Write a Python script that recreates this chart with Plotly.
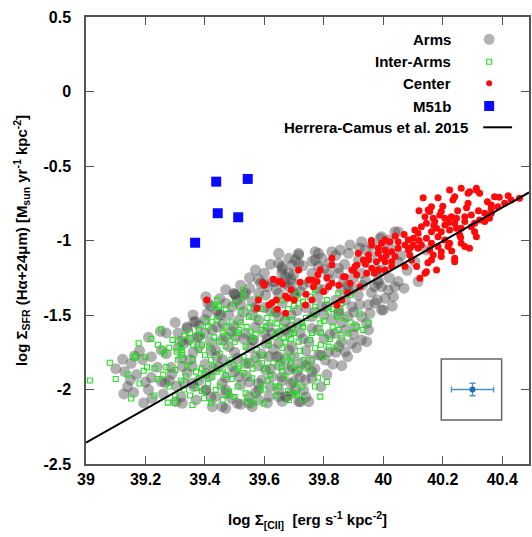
import plotly.graph_objects as go

# ---------------- data ----------------
arms = [
    (39.250,-1.610),(39.253,-1.735),(39.163,-1.775),(39.123,-1.797),(39.152,-1.824),(39.149,-1.936),
    (39.127,-2.030),(39.194,-2.090),(39.222,-2.060),(39.253,-1.947),(39.266,-1.954),(39.286,-1.851),
    (39.289,-1.896),(39.305,-1.977),(39.322,-1.674),(39.322,-1.790),
    (39.693,-1.164),(39.682,-1.220),(39.668,-1.287),(39.637,-1.276),(39.598,-1.287),(39.581,-1.354),
    (39.531,-1.366),(39.497,-1.354),(39.509,-1.399),(39.470,-1.421),(39.403,-1.377),(39.408,-1.489),
    (39.453,-1.500),(39.363,-1.545),(39.341,-1.589),(39.375,-1.646),(39.347,-1.668),(39.330,-1.690),
    (39.380,-1.712),(39.419,-1.679),(39.436,-1.735),(39.481,-1.712),(39.470,-1.646),(39.497,-1.578),
    (39.537,-1.623),(39.564,-1.668),(39.626,-1.623),(39.648,-1.690),(39.682,-1.735),(39.615,-1.779),
    (39.570,-1.779),(39.537,-1.824),(39.492,-1.846),(39.447,-1.846),(39.403,-1.891),(39.358,-1.846),
    (39.324,-1.846),(39.330,-1.958),(39.363,-1.981),(39.403,-2.003),(39.436,-2.048),(39.470,-2.026),
    (39.509,-2.093),(39.548,-2.048),(39.581,-2.003),(39.615,-2.048),(39.648,-2.003),(39.676,-2.048),
    (39.698,-1.947),(39.659,-1.914),(39.626,-1.914),(39.592,-1.936),(39.458,-1.958),(39.425,-2.115),
    (39.470,-2.126),(39.559,-2.115),
    (39.983,-1.287),(40.017,-1.332),(39.972,-1.421),(39.955,-1.489),(39.994,-1.466),(39.927,-1.511),
    (39.944,-1.556),(39.905,-1.578),(39.872,-1.600),(39.838,-1.623),(39.927,-1.668),(39.944,-1.679),
    (39.894,-1.690),(39.849,-1.712),(39.816,-1.746),(39.872,-1.746),(39.782,-1.768),(39.754,-1.802),
    (39.805,-1.802),(39.726,-1.824),(39.693,-1.846),(39.760,-1.925),(39.738,-1.936),(39.704,-2.003),
    (39.732,-2.003),(39.671,-2.048),(39.721,-2.082),(39.749,-2.082),(39.827,-1.534),(39.849,-1.489),
    (39.793,-1.444),(39.760,-1.511),(39.715,-1.556),(39.682,-1.623),(39.693,-1.712),(39.894,-1.444),
    (39.872,-1.399),(39.916,-1.366),(39.883,-1.343),
    (40.039,-0.941),(40.017,-0.997),(39.989,-0.985),(39.927,-1.008),(39.888,-1.030),(39.855,-1.064),
    (39.827,-1.075),(39.771,-1.075),(39.715,-1.086),(39.682,-1.119),(39.659,-1.175),(39.715,-1.153),
    (39.771,-1.131),(39.793,-1.119),(39.782,-1.175),(39.883,-1.086),(39.939,-1.064),(39.961,-1.030),
    (39.698,-1.231),(39.816,-1.220),(39.849,-1.186),(39.866,-1.276),(39.927,-1.220),(39.983,-1.265),
    (39.671,-1.243),(39.916,-1.131),(39.994,-1.198),
    (40.050,-0.941),(39.994,-0.975),(40.050,-1.276),(40.039,-1.310),(39.994,-1.310),(40.006,-1.388),
    (40.034,-1.377),(40.000,-1.466),(40.117,-1.276),(40.106,-1.142),(40.145,-1.064),(40.050,-1.142),
    (39.782,-1.086),
    (39.369,-1.545),(39.503,-1.366),(39.537,-1.354),(39.492,-1.444),(39.559,-1.410),(39.659,-1.220),
    (39.715,-1.097),(39.626,-1.276),(39.587,-1.287),(39.693,-1.287),(39.648,-1.354),(39.704,-1.366),
    (39.604,-1.366),(39.581,-1.534),(39.615,-1.578),(39.648,-1.511),(39.671,-1.600),(39.514,-1.534),
    (39.447,-1.500),(39.425,-1.600),(39.380,-1.646),(39.458,-1.668),(39.503,-1.646),(39.559,-1.668),
    (39.604,-1.690),(39.648,-1.779),(39.682,-1.869),(39.604,-1.869),(39.548,-1.824),(39.514,-1.914),
    (39.470,-2.003),(39.458,-2.115),(39.548,-2.093),(39.648,-2.048),(39.715,-2.082),(39.324,-2.093),
    (39.302,-2.082),(39.403,-2.003),(39.358,-1.958),(39.414,-1.914),
    (39.820,-1.150),(39.850,-1.220),(39.880,-1.300),(39.900,-1.250),(39.930,-1.300),(39.960,-1.350),
    (39.800,-1.330),(39.780,-1.380),(39.840,-1.400),(39.760,-1.220),(39.730,-1.300),(39.700,-1.350),
    (39.740,-1.450),(39.800,-1.500),(39.860,-1.550),(39.900,-1.480),(39.950,-1.430),(39.980,-1.200),
    (39.570,-1.198),(39.648,-1.153),(39.704,-1.131),(39.648,-1.086),(39.600,-1.220),(39.550,-1.250),
    (39.520,-1.300),(39.470,-1.330),
    (39.530,-1.480),(39.570,-1.450),(39.620,-1.470),(39.660,-1.420),(39.690,-1.500),(39.720,-1.620),
    (39.750,-1.680),(39.780,-1.600),(39.600,-1.620),(39.630,-1.730),(39.670,-1.800),(39.710,-1.880),
    (39.580,-1.840),(39.550,-1.950),(39.620,-1.980),(39.500,-1.750),(39.520,-1.970),(39.440,-1.780),
    (39.400,-1.830),(39.360,-1.750),(39.380,-1.570),(39.420,-1.440),(39.460,-1.560),(39.650,-1.840),
    (39.740,-1.740),(39.800,-1.660),(39.840,-1.750),(39.770,-1.860),(39.690,-1.960),(39.580,-2.070),
    (39.620,-1.160),(39.660,-1.190),(39.730,-1.170),(39.760,-1.140),(39.800,-1.190),(39.840,-1.100),
    (39.870,-1.160),(39.920,-1.050),(39.960,-1.100),(40.000,-1.050),(40.030,-1.060),(40.060,-1.100),
    (40.080,-1.200),(39.690,-1.260),(39.580,-1.260),
    (39.500,-1.360),(39.550,-1.320),(39.610,-1.310),(39.640,-1.330),(39.680,-1.310),(39.720,-1.340),
    (39.750,-1.280),(39.780,-1.320),(39.820,-1.260),(39.860,-1.330),(39.900,-1.320),(39.940,-1.270),
    (39.970,-1.310),(40.020,-1.250),(40.070,-1.320),(39.450,-1.390),(39.410,-1.420),
    (39.360,-1.500),(39.400,-1.530),(39.440,-1.470),(39.480,-1.500),(39.520,-1.430),(39.560,-1.500),
    (39.600,-1.450),(39.640,-1.480),(39.670,-1.540),(39.710,-1.470),(39.770,-1.480),(39.810,-1.440),
    (39.850,-1.470),(39.880,-1.510),(39.920,-1.430),(39.980,-1.400),(40.030,-1.440),(39.300,-1.550),
    (39.270,-1.620),(39.310,-1.620),(39.340,-1.580),(39.400,-1.620),(39.440,-1.580),(39.490,-1.610),
    (39.530,-1.660),(39.570,-1.580),(39.610,-1.660),(39.650,-1.620),(39.690,-1.580),(39.730,-1.660),
    (39.760,-1.590),(39.820,-1.630),(39.860,-1.680),(39.900,-1.630),(39.950,-1.600),(39.210,-1.650),
    (39.180,-1.740),(39.220,-1.780),(39.270,-1.760),(39.310,-1.720),(39.350,-1.800),(39.420,-1.740),
    (39.460,-1.800),(39.510,-1.790),(39.550,-1.720),(39.590,-1.760),(39.640,-1.780),(39.700,-1.780),
    (39.740,-1.840),(39.790,-1.770),(39.830,-1.830),(39.880,-1.780),(39.910,-1.720),
    (39.130,-1.880),(39.170,-1.900),(39.220,-1.920),(39.280,-1.940),(39.340,-1.890),(39.380,-1.940),
    (39.430,-1.860),(39.470,-1.920),(39.500,-1.880),(39.540,-1.910),(39.580,-1.960),(39.620,-1.860),
    (39.660,-1.940),(39.720,-1.920),(39.760,-1.880),(39.810,-1.900),(39.860,-1.840),
    (39.160,-2.020),(39.210,-2.000),(39.260,-2.030),(39.320,-2.050),(39.370,-2.070),(39.420,-2.050),
    (39.490,-2.060),(39.520,-2.100),(39.570,-2.020),(39.610,-2.090),(39.660,-2.080),(39.690,-2.030),
    (39.740,-2.050),(39.790,-1.980),
    (39.100,-1.860),(39.140,-1.980),(39.190,-1.800),(39.240,-1.850),(39.200,-1.950),
]

inter_arms = [
    (39.253,-1.596),(39.177,-1.690),(39.242,-1.700),(39.257,-1.735),(39.263,-1.760),(39.291,-1.667),
    (39.309,-1.679),(39.166,-1.775),(39.163,-1.786),(39.205,-1.851),(39.194,-1.874),(39.230,-1.858),
    (39.013,-1.940),(39.152,-2.060),(39.305,-1.746),(39.322,-1.735),(39.322,-1.768),(39.275,-2.088),
    (39.298,-2.088),(39.300,-2.040),
    (39.528,-1.332),(39.434,-1.444),(39.447,-1.444),(39.520,-1.478),(39.548,-1.511),(39.575,-1.522),
    (39.403,-1.545),(39.425,-1.545),(39.470,-1.578),(39.514,-1.600),(39.553,-1.612),(39.604,-1.578),
    (39.643,-1.556),(39.671,-1.511),(39.693,-1.534),(39.380,-1.600),(39.352,-1.656),(39.319,-1.712),
    (39.324,-1.757),(39.380,-1.735),(39.414,-1.712),(39.447,-1.679),(39.537,-1.712),(39.575,-1.735),
    (39.615,-1.701),(39.637,-1.646),(39.665,-1.656),(39.592,-1.824),(39.659,-1.824),(39.693,-1.779),
    (39.514,-1.846),(39.470,-1.902),(39.425,-1.914),(39.380,-1.925),(39.336,-1.914),(39.559,-1.925),
    (39.587,-1.981),(39.637,-1.981),(39.537,-2.026),(39.481,-2.014),(39.436,-2.003),(39.397,-2.059),
    (39.358,-2.104),(39.564,-2.093),(39.598,-2.093),(39.682,-2.070),(39.704,-2.026),
    (39.754,-1.377),(39.771,-1.444),(39.715,-1.421),(39.816,-1.478),(39.855,-1.455),(39.844,-1.511),
    (39.788,-1.556),(39.726,-1.556),(39.693,-1.600),(39.754,-1.668),(39.715,-1.679),(39.883,-1.623),
    (39.933,-1.600),(39.860,-1.656),(39.816,-1.712),(39.771,-1.723),(39.671,-1.779),(39.732,-1.802),
    (39.659,-1.846),(39.698,-1.869),(39.671,-1.914),(39.704,-1.958),(39.726,-1.981),(39.710,-2.037),
    (39.788,-2.048),(39.849,-1.354),(39.888,-1.366),
    (39.360,-1.800),(39.390,-1.860),(39.420,-1.800),(39.450,-1.760),(39.480,-1.820),(39.500,-1.680),
    (39.530,-1.780),(39.560,-1.860),(39.600,-1.770),(39.620,-1.900),(39.660,-1.720),(39.690,-1.660),
    (39.720,-1.740),(39.750,-1.860),(39.780,-1.920),(39.640,-2.040),(39.600,-2.000),(39.500,-2.050),
    (39.460,-2.070),(39.410,-1.960),(39.370,-1.990),(39.330,-2.000),(39.280,-1.980),(39.520,-1.550),
    (39.570,-1.630),(39.610,-1.520),(39.660,-1.580),(39.480,-1.640),(39.430,-1.650),(39.390,-1.700),
    (39.350,-1.620),(39.310,-1.800),(39.270,-1.850),(39.240,-1.930),(39.470,-1.710),(39.550,-1.450),
    (39.580,-1.390),(39.620,-1.430),(39.680,-1.460),(39.740,-1.520),(39.790,-1.620),(39.830,-1.580),
    (39.890,-1.550),(39.810,-1.400),(39.770,-1.330),(39.710,-1.360),(39.490,-1.930),(39.530,-1.890),
    (39.440,-1.880),(39.400,-1.770),
    (39.330,-1.640),(39.360,-1.700),(39.390,-1.640),(39.410,-1.580),(39.440,-1.530),(39.460,-1.620),
    (39.490,-1.550),(39.510,-1.620),(39.540,-1.580),(39.560,-1.660),(39.590,-1.600),(39.620,-1.550),
    (39.640,-1.620),(39.670,-1.680),(39.700,-1.620),(39.730,-1.580),(39.760,-1.620),(39.790,-1.700),
    (39.820,-1.660),(39.850,-1.600),(39.870,-1.520),(39.910,-1.580),(39.950,-1.550),(39.920,-1.490),
    (39.340,-1.840),(39.370,-1.880),(39.400,-1.900),(39.430,-1.840),(39.460,-1.860),(39.490,-1.800),
    (39.510,-1.860),(39.540,-1.820),(39.570,-1.800),(39.600,-1.860),(39.630,-1.820),(39.660,-1.880),
    (39.690,-1.820),(39.720,-1.860),(39.760,-1.800),(39.800,-1.780),(39.840,-1.720),
    (39.320,-1.940),(39.350,-2.040),(39.390,-2.010),(39.420,-2.090),(39.450,-1.980),(39.480,-2.040),
    (39.510,-1.980),(39.540,-2.080),(39.570,-2.040),(39.610,-1.940),(39.650,-1.980),(39.680,-2.010),
    (39.730,-2.060),(39.770,-1.980),(39.810,-1.950),
    (39.440,-1.400),(39.470,-1.460),(39.500,-1.420),(39.530,-1.380),(39.590,-1.460),(39.630,-1.490),
    (39.660,-1.400),(39.700,-1.440),(39.730,-1.410),(39.770,-1.500),(39.800,-1.540),(39.830,-1.460),
    (39.860,-1.420),
    (39.200,-1.780),(39.220,-1.660),(39.280,-1.720),(39.260,-1.900),(39.300,-1.870),(39.230,-2.040),
    (39.180,-1.960),(39.140,-1.900),(39.100,-1.930),(39.080,-1.820),
]

center = [
    (40.134,-0.713),(40.184,-0.713),(40.223,-0.661),(40.262,-0.650),(40.290,-0.672),(40.313,-0.661),
    (40.324,-0.683),(40.240,-0.706),(40.234,-0.728),(40.285,-0.750),(40.374,-0.706),(40.363,-0.761),
    (40.430,-0.728),(40.458,-0.717),(40.162,-0.773),(40.156,-0.806),(40.195,-0.806),(40.190,-0.829),
    (40.168,-0.851),(40.207,-0.851),(40.229,-0.840),(40.246,-0.851),(40.274,-0.840),(40.296,-0.829),
    (40.341,-0.817),(40.363,-0.784),(40.385,-0.773),(40.173,-0.873),(40.145,-0.885),(40.207,-0.896),
    (40.240,-0.885),(40.274,-0.873),(40.307,-0.885),(40.324,-0.862),(40.341,-0.873),(40.357,-0.851),
    (40.106,-0.929),(40.128,-0.907),(40.117,-0.952),(40.179,-0.918),(40.162,-0.941),(40.195,-0.941),
    (40.223,-0.929),(40.262,-0.918),(40.296,-0.907),(40.307,-0.941),(40.313,-0.975),(40.184,-0.975),
    (40.207,-0.997),(40.145,-0.985),(40.101,-0.985),(40.084,-0.997),(40.050,-1.008),(40.022,-1.008),
    (40.006,-0.997),(40.073,-1.030),(40.101,-1.030),(40.117,-1.052),(40.162,-1.019),(40.184,-1.041),
    (40.223,-1.019),(40.262,-1.019),(40.274,-1.041),(40.290,-1.052),(40.050,-1.052),(40.084,-1.064),
    (40.028,-1.075),(40.039,-1.108),(40.156,-1.064),(40.195,-1.075),(40.218,-1.041),(40.240,-1.119),
    (40.240,-1.142),(40.162,-1.131),(40.195,-1.108),(40.179,-1.198),(40.140,-1.220),(40.123,-1.253),
    (40.073,-1.175),(40.112,-1.175),(39.994,-1.019),(39.983,-1.052),(39.961,-1.030),(39.916,-1.086),
    (39.933,-1.131),(39.911,-1.164),(39.950,-1.131),(39.977,-1.142),(39.827,-1.119),(39.866,-1.243),
    (39.894,-1.198),(39.816,-1.310),(39.749,-1.265),(39.765,-1.310),(39.827,-1.287),(39.799,-1.343),
    (39.860,-1.399),(39.844,-1.433),(39.738,-1.433),
    (40.313,-0.650),(40.285,-0.683),(40.408,-0.750),(40.151,-0.795),(40.363,-0.817),(40.246,-0.918),
    (40.257,-0.963),(40.128,-1.030),(40.089,-1.097),(40.168,-1.097),(40.145,-1.209),(39.994,-1.119),
    (40.028,-1.142),(40.006,-1.198),(40.095,-1.131),(40.006,-1.064),
    (39.983,-1.086),(39.950,-1.097),(40.006,-1.142),(40.028,-1.175),(39.961,-1.186),(39.983,-1.198),
    (39.900,-1.198),(39.905,-1.175),(39.944,-1.220),(39.827,-1.164),(39.888,-1.287),(39.715,-1.198),
    (39.760,-1.265),(39.654,-1.276),(39.922,-1.310),(39.777,-1.276),(39.872,-1.243),(39.788,-1.198),
    (39.406,-1.399),(39.596,-1.283),(39.648,-1.276),(39.662,-1.292),(39.575,-1.455),(39.615,-1.433),
    (39.626,-1.418),(39.643,-1.462),(39.671,-1.372),(39.679,-1.388),(39.671,-1.489),
    (39.600,-1.300),(39.630,-1.260),(39.690,-1.330),(39.720,-1.280),(39.740,-1.360),(39.780,-1.230),
    (39.810,-1.250),(39.850,-1.300),(39.880,-1.350),(39.910,-1.230),(39.940,-1.160),(39.970,-1.220),
    (40.010,-1.100),(39.960,-1.000),(40.040,-0.970),(40.070,-0.960),(39.700,-1.400),(39.760,-1.400),
    (39.580,-1.400),(39.640,-1.400),
    (40.120,-0.800),(40.140,-0.840),(40.170,-0.900),(40.220,-0.880),(40.250,-0.800),(40.280,-0.780),
    (40.320,-0.800),(40.350,-0.740),(40.390,-0.710),(40.420,-0.700),(40.200,-0.770),(40.260,-0.980),
    (40.230,-1.070),(40.150,-1.150),(40.090,-1.050),(40.120,-1.000),
]

m51b_x = [39.438, 39.544, 39.443, 39.512, 39.367]
m51b_y = [-0.605, -0.587, -0.817, -0.844, -1.015]

# Herrera-Camus et al. 2015 relation (slope, intercept)
hc_slope = 1.127
hc_intercept = -46.31
hc_x = [39.0, 40.49]

# typical error bar shown in the inset
err_x, err_y = [40.30], [-2.0]
err_dx, err_dy = [0.071], [0.042]
inset_box_x = [40.195, 40.398]
inset_box_y = [-2.205, -1.795]

x_ticks = [39.0, 39.2, 39.4, 39.6, 39.8, 40.0, 40.2, 40.4]
x_ticktext = ["39", "39.2", "39.4", "39.6", "39.8", "40", "40.2", "40.4"]
y_ticks = [-2.5, -2.0, -1.5, -1.0, -0.5, 0.0, 0.5]
y_ticktext = ["-2.5", "-2", "-1.5", "-1", "-0.5", "0", "0.5"]

legend_labels = ["Arms", "Inter-Arms", "Center", "M51b", "Herrera-Camus et al. 2015"]

# ---------------- figure ----------------
FONT = "Liberation Sans, Arial, Helvetica, sans-serif"
W, H = 532, 537
ML, MR, MT, MB = 86, 1, 17, 73
PW, PH = W - ML - MR, H - MT - MB

def px(xp):
    return (xp - ML) / PW

def py(yp):
    return (H - MB - yp) / PH

fig = go.Figure()

fig.add_trace(go.Scatter(
    x=[p[0] for p in arms], y=[p[1] for p in arms], mode="markers", name="Arms",
    marker=dict(size=11, color="rgba(70,70,70,0.42)", line=dict(width=0)), hoverinfo="skip"))
fig.add_trace(go.Scatter(
    x=[p[0] for p in inter_arms], y=[p[1] for p in inter_arms], mode="markers", name="Inter-Arms",
    marker=dict(size=5, symbol="square-open", color="#1fe31f", line=dict(width=1.1, color="#1fe31f")),
    hoverinfo="skip"))
fig.add_trace(go.Scatter(
    x=[p[0] for p in center], y=[p[1] for p in center], mode="markers", name="Center",
    marker=dict(size=7, color="#ff0a0a", line=dict(width=0)), hoverinfo="skip"))
fig.add_trace(go.Scatter(
    x=hc_x, y=[hc_slope * v + hc_intercept for v in hc_x], mode="lines", name="HC15",
    line=dict(color="black", width=2), hoverinfo="skip"))
fig.add_trace(go.Scatter(
    x=m51b_x, y=m51b_y, mode="markers", name="M51b",
    marker=dict(size=10, symbol="square", color="#0a0aff", line=dict(width=0)), hoverinfo="skip"))
fig.add_trace(go.Scatter(
    x=err_x, y=err_y, mode="markers", name="err",
    marker=dict(size=6, color="#1f6fae"),
    error_x=dict(type="data", array=err_dx, color="#4b93c8", thickness=1.3, width=3),
    error_y=dict(type="data", array=err_dy, color="#4b93c8", thickness=1.3, width=3),
    hoverinfo="skip"))

shapes = [dict(type="rect", xref="x", yref="y", x0=inset_box_x[0], x1=inset_box_x[1],
               y0=inset_box_y[0], y1=inset_box_y[1], line=dict(color="#666", width=1.5))]

annotations = []
rows_y = [39.3, 61.7, 83.3, 106.0, 127.3]
text_right = [455, 455, 455, 455, 472]
for lab, ry, tr in zip(legend_labels, rows_y, text_right):
    annotations.append(dict(x=px(tr), y=py(ry), xref="paper", yref="paper", text="<b>%s</b>" % lab,
                            showarrow=False, xanchor="right", yanchor="middle",
                            font=dict(family=FONT, size=15, color="black")))
sx = 491
shapes += [
    dict(type="circle", xref="paper", yref="paper", x0=px(sx - 5.5), x1=px(sx + 5.5),
         y0=py(rows_y[0] + 5.5), y1=py(rows_y[0] - 5.5), fillcolor="#b4b4b4", line=dict(width=0)),
    dict(type="rect", xref="paper", yref="paper", x0=px(sx - 2.5), x1=px(sx + 2.5),
         y0=py(rows_y[1] + 2.5), y1=py(rows_y[1] - 2.5), line=dict(color="#1fe31f", width=1.1)),
    dict(type="circle", xref="paper", yref="paper", x0=px(sx - 3), x1=px(sx + 3),
         y0=py(rows_y[2] + 3), y1=py(rows_y[2] - 3), fillcolor="#ff0a0a", line=dict(width=0)),
    dict(type="rect", xref="paper", yref="paper", x0=px(sx - 5), x1=px(sx + 5),
         y0=py(rows_y[3] + 5), y1=py(rows_y[3] - 5), fillcolor="#0a0aff", line=dict(width=0)),
    dict(type="line", xref="paper", yref="paper", x0=px(485), x1=px(514),
         y0=py(rows_y[4]), y1=py(rows_y[4]), line=dict(color="black", width=2)),
]

axis_common = dict(showgrid=False, zeroline=False, showline=True, linecolor="#555", linewidth=1.5,
                   mirror="ticks", ticks="inside", ticklen=8, tickwidth=1.3, tickcolor="#555",
                   tickfont=dict(family=FONT, size=16, color="black", weight="bold"))

fig.update_layout(
    width=W, height=H, margin=dict(l=ML, r=MR, t=MT, b=MB),
    paper_bgcolor="white", plot_bgcolor="white", showlegend=False,
    shapes=shapes, annotations=annotations,
    xaxis=dict(range=[39.0, 40.49], tickvals=x_ticks, ticktext=x_ticktext, ticklabelstandoff=0,
               title=dict(text="log Σ<sub>[CII]</sub>  [erg s<sup>-1</sup> kpc<sup>-2</sup>]",
                          font=dict(family=FONT, size=15, color="black", weight="bold"), standoff=28),
               **axis_common),
    yaxis=dict(range=[-2.5, 0.5], tickvals=y_ticks, ticktext=y_ticktext, ticklabelstandoff=10,
               title=dict(text="log Σ<sub>SFR</sub> (Hα+24μm) [M<sub>sun</sub> yr<sup>-1</sup> kpc<sup>-2</sup>]",
                          font=dict(family=FONT, size=15, color="black", weight="bold"), standoff=12),
               **axis_common),
)

fig.write_html("out.html")
